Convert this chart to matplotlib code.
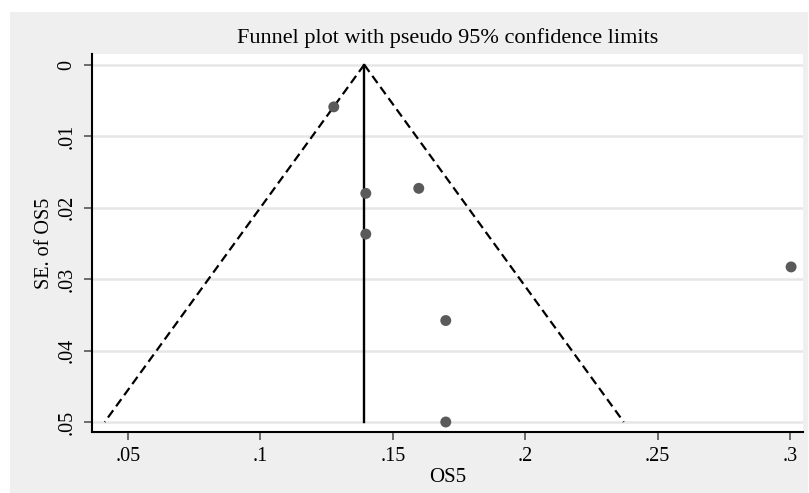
import numpy as np
import matplotlib
matplotlib.use("Agg")
import matplotlib.pyplot as plt
from matplotlib.patches import Rectangle

plt.rcParams["font.family"] = ["Liberation Serif", "DejaVu Serif"]

# study estimates (OS5) and their standard errors
os5 = [0.1277, 0.1398, 0.1598, 0.1398, 0.3004, 0.1700, 0.1700]
se_os5 = [0.0059, 0.0180, 0.0173, 0.0237, 0.0283, 0.0358, 0.0500]

pooled = 0.1392
se_max = 0.05
xticks = [0.05, 0.1, 0.15, 0.2, 0.25, 0.3]
xticklabels = [".05", ".1", ".15", ".2", ".25", ".3"]
yticks = [0, 0.01, 0.02, 0.03, 0.04, 0.05]
yticklabels = ["0", ".01", ".02", ".03", ".04", ".05"]

fig = plt.figure(figsize=(8.09, 4.93), dpi=100)
fig.patch.set_facecolor("white")
bg = Rectangle((10/809, 0), 798/809, 1-12/493, transform=fig.transFigure,
               facecolor="#efefef", edgecolor="none", zorder=-10)
fig.add_artist(bg)

ax = fig.add_axes([92/809, 1-432/493, 711/809, 378/493])
ax.set_zorder(1)
ax.set_facecolor("white")

# pseudo 95% limits
se_line = np.array([0, se_max])
ax.plot([pooled, pooled], [0, se_max], color="black", lw=1.7, zorder=3)
ax.plot(pooled - 1.96*se_line, se_line, color="black", lw=1.6, ls=(0, (4.0, 2.2)), zorder=3)
ax.plot(pooled + 1.96*se_line, se_line, color="black", lw=1.6, ls=(0, (4.0, 2.2)), zorder=3)

ax.scatter(os5, se_os5, s=62, color="#5a5a5a", edgecolors="none", zorder=4)

ax.set_xlim(0.0364, 0.3049)
ax.set_ylim(0.0514, -0.0015)
ax.set_xticks(xticks)
ax.set_xticklabels(xticklabels)
ax.set_yticks(yticks)
ax.set_yticklabels(yticklabels, rotation=90, va="center")
ax.tick_params(axis="both", length=6, width=1.2, color="#555555", labelsize=14.5)
ax.tick_params(axis="x", pad=5)
ax.tick_params(axis="y", pad=5)
ax.grid(axis="y", color="#e6e6e6", lw=1.8)
ax.set_axisbelow(True)

for s in ["top", "right"]:
    ax.spines[s].set_visible(False)
for s in ["left", "bottom"]:
    ax.spines[s].set_linewidth(1.5)
    ax.spines[s].set_color("black")

ax.set_title("Funnel plot with pseudo 95% confidence limits", fontsize=16, pad=8)
ax.set_xlabel("OS5", fontsize=15, labelpad=1)
ax.set_ylabel("SE. of OS5", fontsize=14.5, labelpad=3)

fig.savefig("out.png", dpi=100)
